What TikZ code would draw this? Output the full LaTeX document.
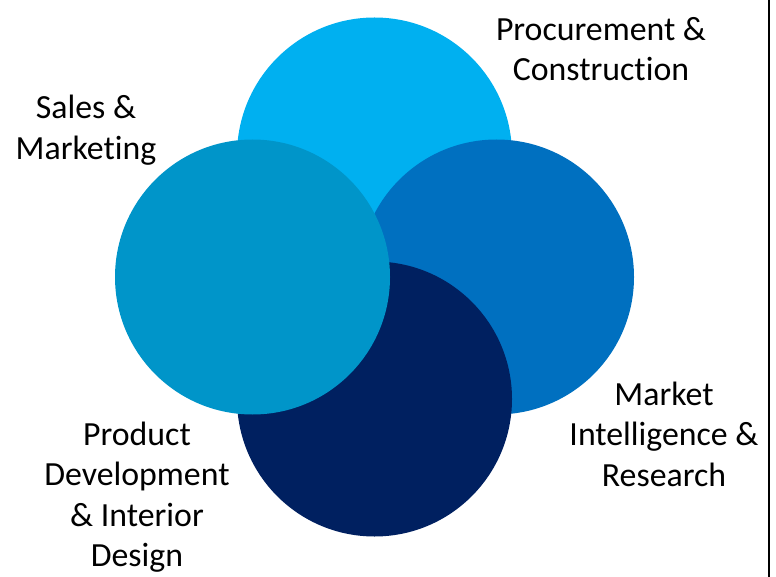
\documentclass[tikz,border=0pt]{standalone}
\usepackage{fontspec}
\setmainfont[Ligatures={NoCommon}]{Carlito}
\definecolor{cTop}{HTML}{00B0F0}
\definecolor{cRight}{HTML}{0070C0}
\definecolor{cBottom}{HTML}{002060}
\definecolor{cLeft}{HTML}{0095C9}
\begin{document}
\begin{tikzpicture}[x=1pt,y=-1pt,
  disc/.style={circle,minimum size=275pt,inner sep=0pt,draw=none},
  lbl/.style={align=center,font=\fontsize{33.8}{40.5}\selectfont,text=black,inner sep=0pt}]
\useasboundingbox (0,0) rectangle (776,577);
% four overlapping circles, back to front
\node[disc,fill=cTop]    (top)    at (374.5,155) {};
\node[disc,fill=cRight]  (right)  at (496.5,277) {};
\node[disc,fill=cBottom] (bottom) at (374.5,399) {};
\node[disc,fill=cLeft]   (left)   at (252.5,277) {};
% labels
\node[lbl] (ptxt) at (601,49) {Procurement \&\\Construction};
\node[lbl] (stxt) at (86,130) {Sales \&\\Marketing};
\node[lbl] (mtxt) at (664,434) {Market\\Intelligence \&\\Research};
\node[lbl] (dtxt) at (137,497) {Product\\Development\\\& Interior\\Design};
% frame edge
\draw[line width=2pt] (769,0) -- (769,577);
\end{tikzpicture}
\end{document}
